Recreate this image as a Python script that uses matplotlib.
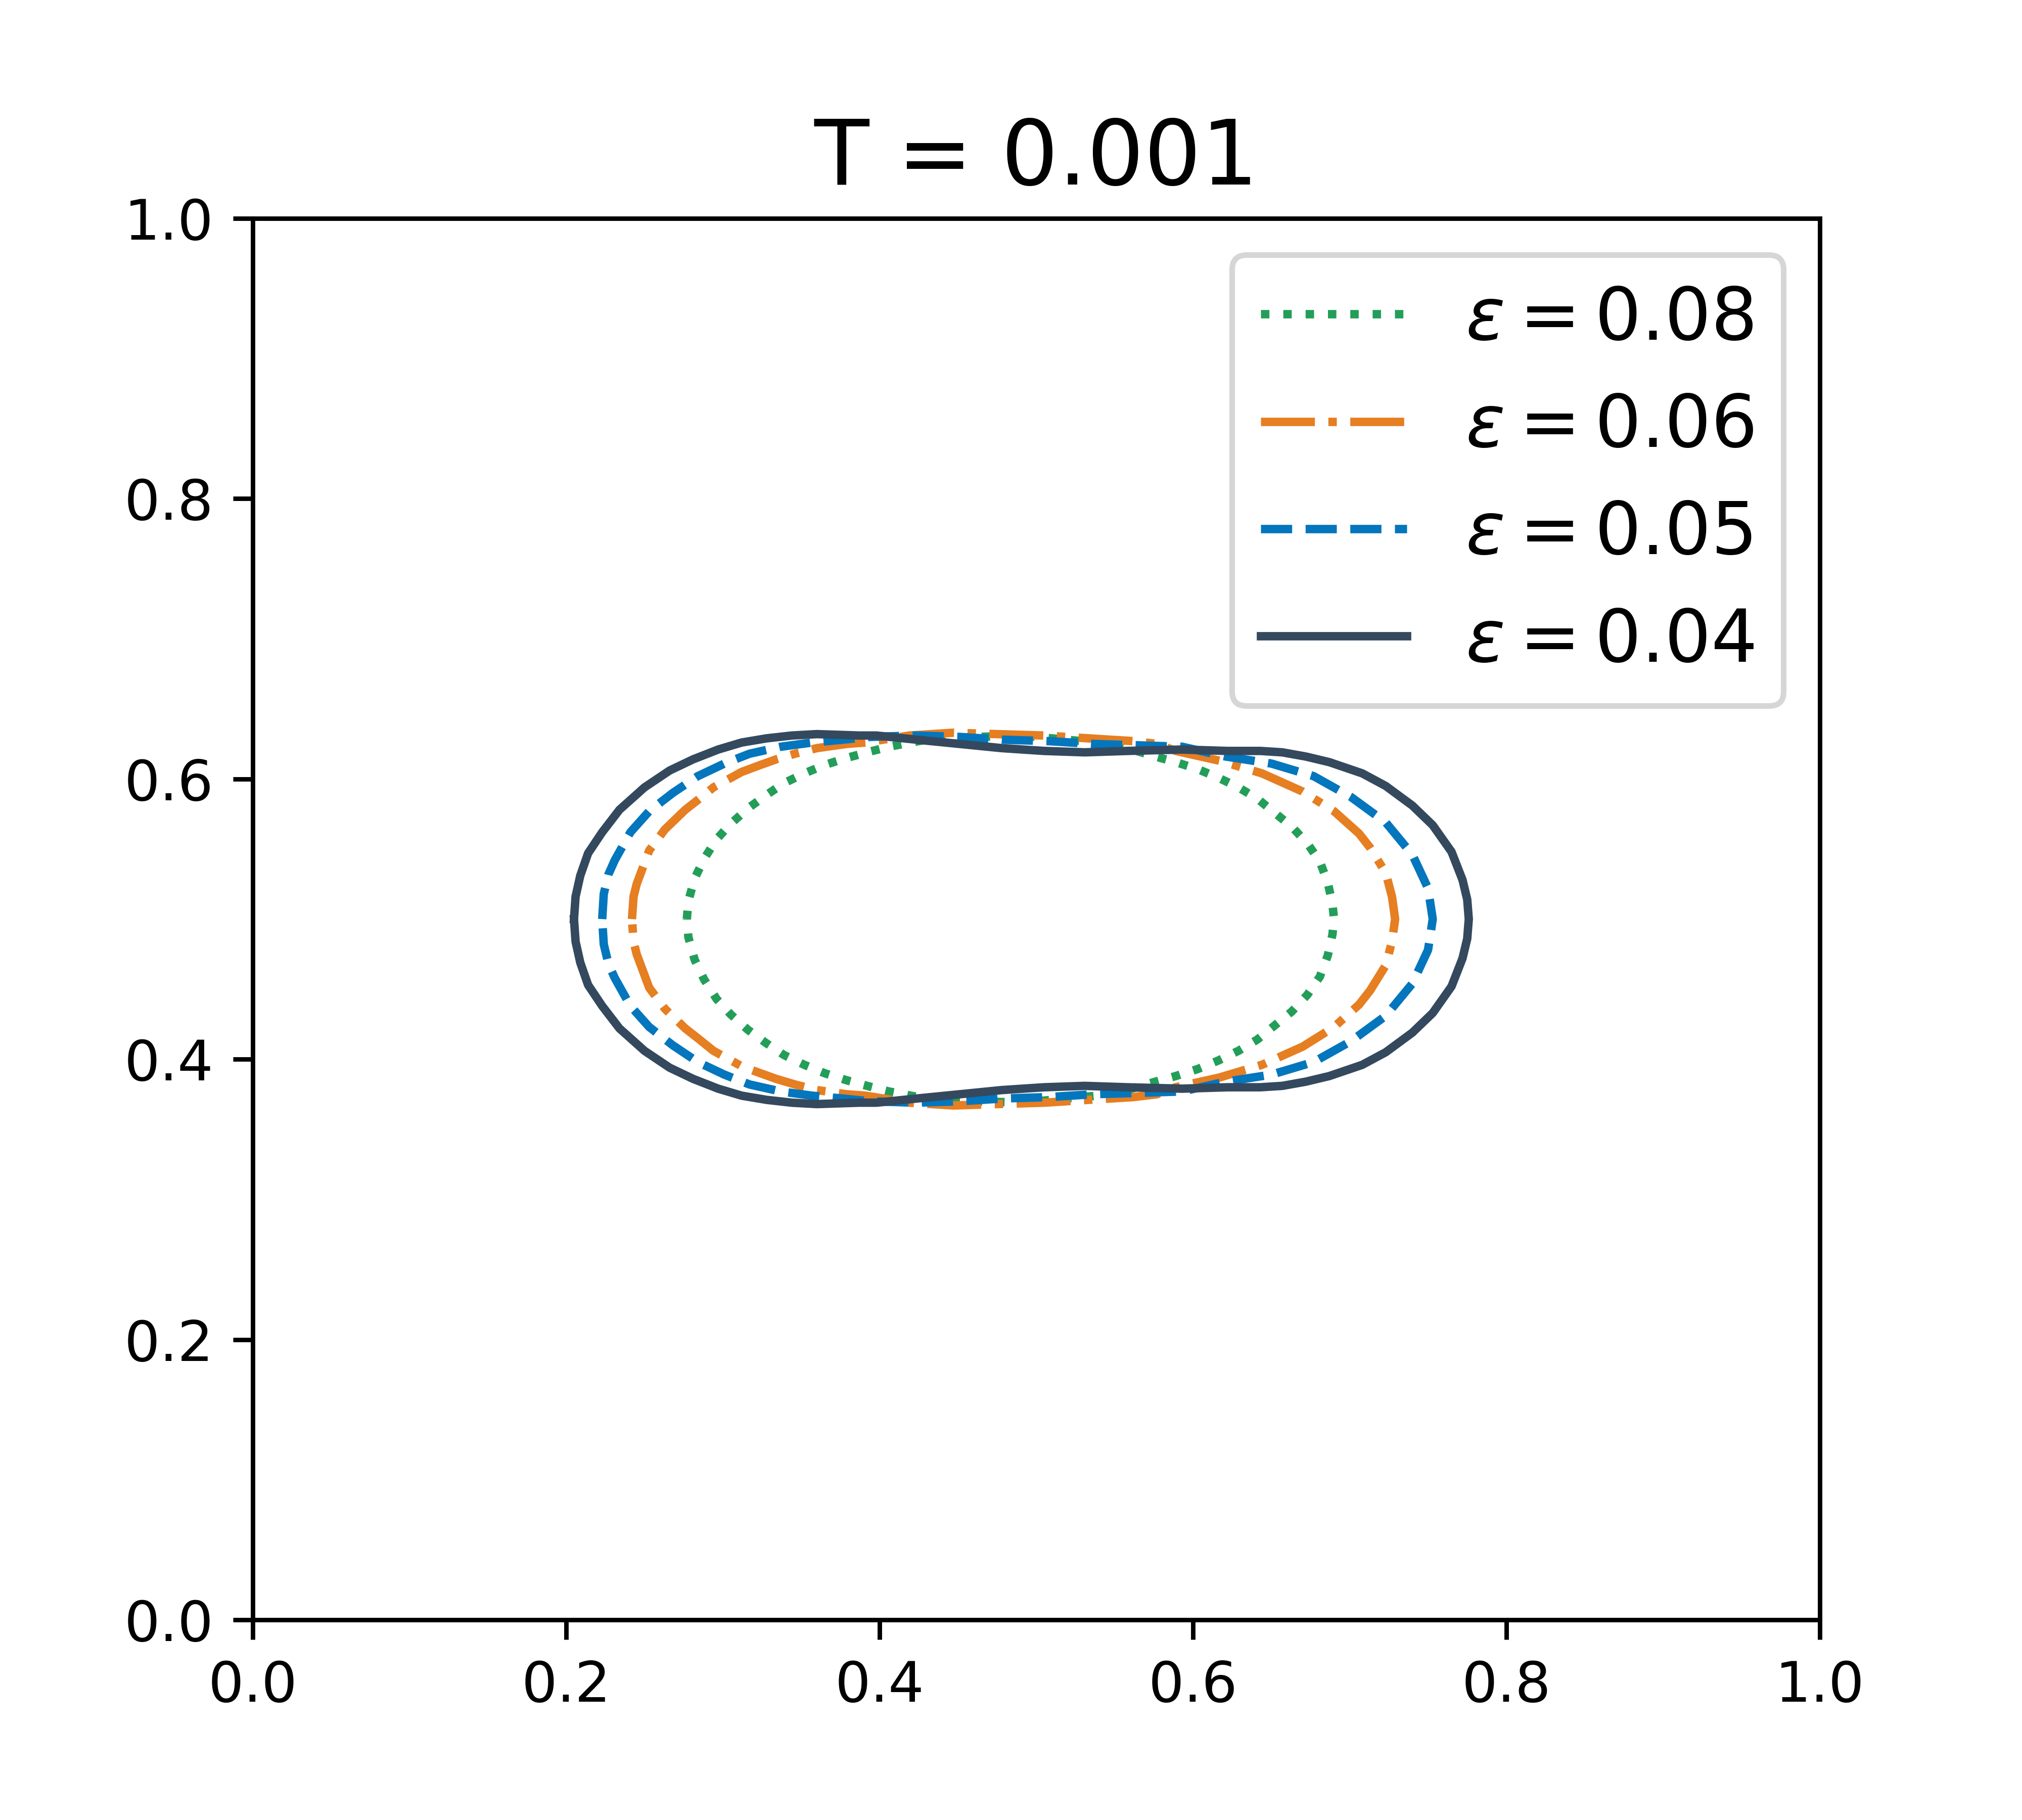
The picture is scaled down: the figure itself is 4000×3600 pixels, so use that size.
import numpy as np
import matplotlib
matplotlib.use("Agg")
import matplotlib.pyplot as plt

# interface curves: x, upper branch, lower branch
x_008 = [0.277, 0.278, 0.282, 0.288, 0.296, 0.305, 0.316, 0.327, 0.339, 0.352, 0.365, 0.379,
         0.392, 0.406, 0.420, 0.435, 0.463, 0.491, 0.519, 0.549, 0.576, 0.589, 0.603, 0.616,
         0.629, 0.641, 0.652, 0.663, 0.673, 0.681, 0.686, 0.689, 0.690]
up_008 = [0.500, 0.513, 0.529, 0.543, 0.557, 0.568, 0.579, 0.588, 0.597, 0.604, 0.610, 0.615,
          0.619, 0.623, 0.626, 0.629, 0.630, 0.631, 0.628, 0.625, 0.616, 0.612, 0.607, 0.601,
          0.594, 0.586, 0.576, 0.566, 0.554, 0.541, 0.526, 0.511, 0.500]
lo_008 = [0.500, 0.487, 0.471, 0.457, 0.443, 0.432, 0.421, 0.412, 0.403, 0.396, 0.390, 0.385,
          0.381, 0.377, 0.374, 0.371, 0.370, 0.369, 0.372, 0.375, 0.384, 0.388, 0.393, 0.399,
          0.406, 0.414, 0.424, 0.434, 0.446, 0.459, 0.474, 0.489, 0.500]

x_006 = [0.242, 0.243, 0.245, 0.249, 0.253, 0.263, 0.276, 0.284, 0.294, 0.312, 0.324, 0.334,
         0.346, 0.360, 0.379, 0.391, 0.419, 0.447, 0.475, 0.505, 0.533, 0.562, 0.577, 0.589,
         0.617, 0.644, 0.670, 0.690, 0.706, 0.713, 0.723, 0.727, 0.729]
up_006 = [0.500, 0.516, 0.525, 0.537, 0.549, 0.564, 0.578, 0.585, 0.594, 0.605, 0.610, 0.614,
          0.618, 0.622, 0.625, 0.626, 0.631, 0.633, 0.632, 0.631, 0.629, 0.627, 0.625, 0.620,
          0.613, 0.604, 0.591, 0.577, 0.561, 0.551, 0.533, 0.516, 0.500]
lo_006 = [0.500, 0.484, 0.475, 0.463, 0.451, 0.436, 0.422, 0.415, 0.406, 0.395, 0.390, 0.386,
          0.382, 0.378, 0.375, 0.374, 0.369, 0.367, 0.368, 0.369, 0.371, 0.373, 0.375, 0.380,
          0.387, 0.396, 0.409, 0.423, 0.439, 0.449, 0.467, 0.484, 0.500]

x_005 = [0.223, 0.224, 0.227, 0.231, 0.241, 0.253, 0.268, 0.284, 0.301, 0.317, 0.337, 0.357,
         0.376, 0.394, 0.423, 0.451, 0.479, 0.508, 0.536, 0.565, 0.593, 0.621, 0.650, 0.677,
         0.701, 0.723, 0.740, 0.750, 0.753]
up_005 = [0.500, 0.518, 0.532, 0.542, 0.562, 0.577, 0.590, 0.602, 0.611, 0.618, 0.623, 0.626,
          0.628, 0.630, 0.631, 0.630, 0.628, 0.627, 0.625, 0.624, 0.623, 0.616, 0.611, 0.602,
          0.587, 0.569, 0.546, 0.522, 0.500]
lo_005 = [0.500, 0.482, 0.468, 0.458, 0.438, 0.423, 0.410, 0.398, 0.389, 0.382, 0.377, 0.374,
          0.372, 0.370, 0.369, 0.370, 0.372, 0.373, 0.375, 0.376, 0.377, 0.384, 0.389, 0.398,
          0.413, 0.431, 0.454, 0.478, 0.500]

x_004 = [0.205, 0.206, 0.209, 0.214, 0.223, 0.234, 0.250, 0.266, 0.281, 0.297, 0.312, 0.328,
         0.344, 0.360, 0.387, 0.398, 0.424, 0.451, 0.478, 0.505, 0.531, 0.558, 0.593, 0.622,
         0.643, 0.657, 0.672, 0.687, 0.708, 0.723, 0.740, 0.753, 0.765, 0.772, 0.775, 0.776]
up_004 = [0.500, 0.516, 0.531, 0.547, 0.562, 0.578, 0.594, 0.606, 0.614, 0.621, 0.626, 0.629,
          0.631, 0.632, 0.631, 0.631, 0.628, 0.625, 0.622, 0.620, 0.619, 0.620, 0.621, 0.620,
          0.620, 0.619, 0.616, 0.612, 0.604, 0.595, 0.581, 0.567, 0.548, 0.528, 0.514, 0.500]
lo_004 = [0.500, 0.484, 0.469, 0.453, 0.438, 0.422, 0.406, 0.394, 0.386, 0.379, 0.374, 0.371,
          0.369, 0.368, 0.369, 0.369, 0.372, 0.375, 0.378, 0.380, 0.381, 0.380, 0.379, 0.380,
          0.380, 0.381, 0.384, 0.388, 0.396, 0.405, 0.419, 0.433, 0.452, 0.472, 0.486, 0.500]

labels = [r"$\varepsilon = 0.08$", r"$\varepsilon = 0.06$", r"$\varepsilon = 0.05$", r"$\varepsilon = 0.04$"]
colors = ["#239E59", "#E67E22", "#0376BD", "#34495E"]
styles = [":", "-.", "--", "-"]

curves = [(x_008, up_008, lo_008), (x_006, up_006, lo_006),
          (x_005, up_005, lo_005), (x_004, up_004, lo_004)]

fig = plt.figure(figsize=(5, 4.5), dpi=800)
ax = fig.add_subplot(111)

for (xs, up, lo), lab, c, ls in zip(curves, labels, colors, styles):
    xs = np.asarray(xs)
    # walk along the upper branch, then back along the lower one
    px = np.concatenate([xs, xs[::-1]])
    py = np.concatenate([np.asarray(up), np.asarray(lo)[::-1]])
    ax.plot(px, py, color=c, linestyle=ls, linewidth=1.5, label=lab)

ax.set_xlim(0, 1)
ax.set_ylim(0, 1)
ax.set_title("T = 0.001", fontsize=16)
ax.legend(loc="upper right", fontsize=13)

fig.savefig("out.png", dpi=800)
